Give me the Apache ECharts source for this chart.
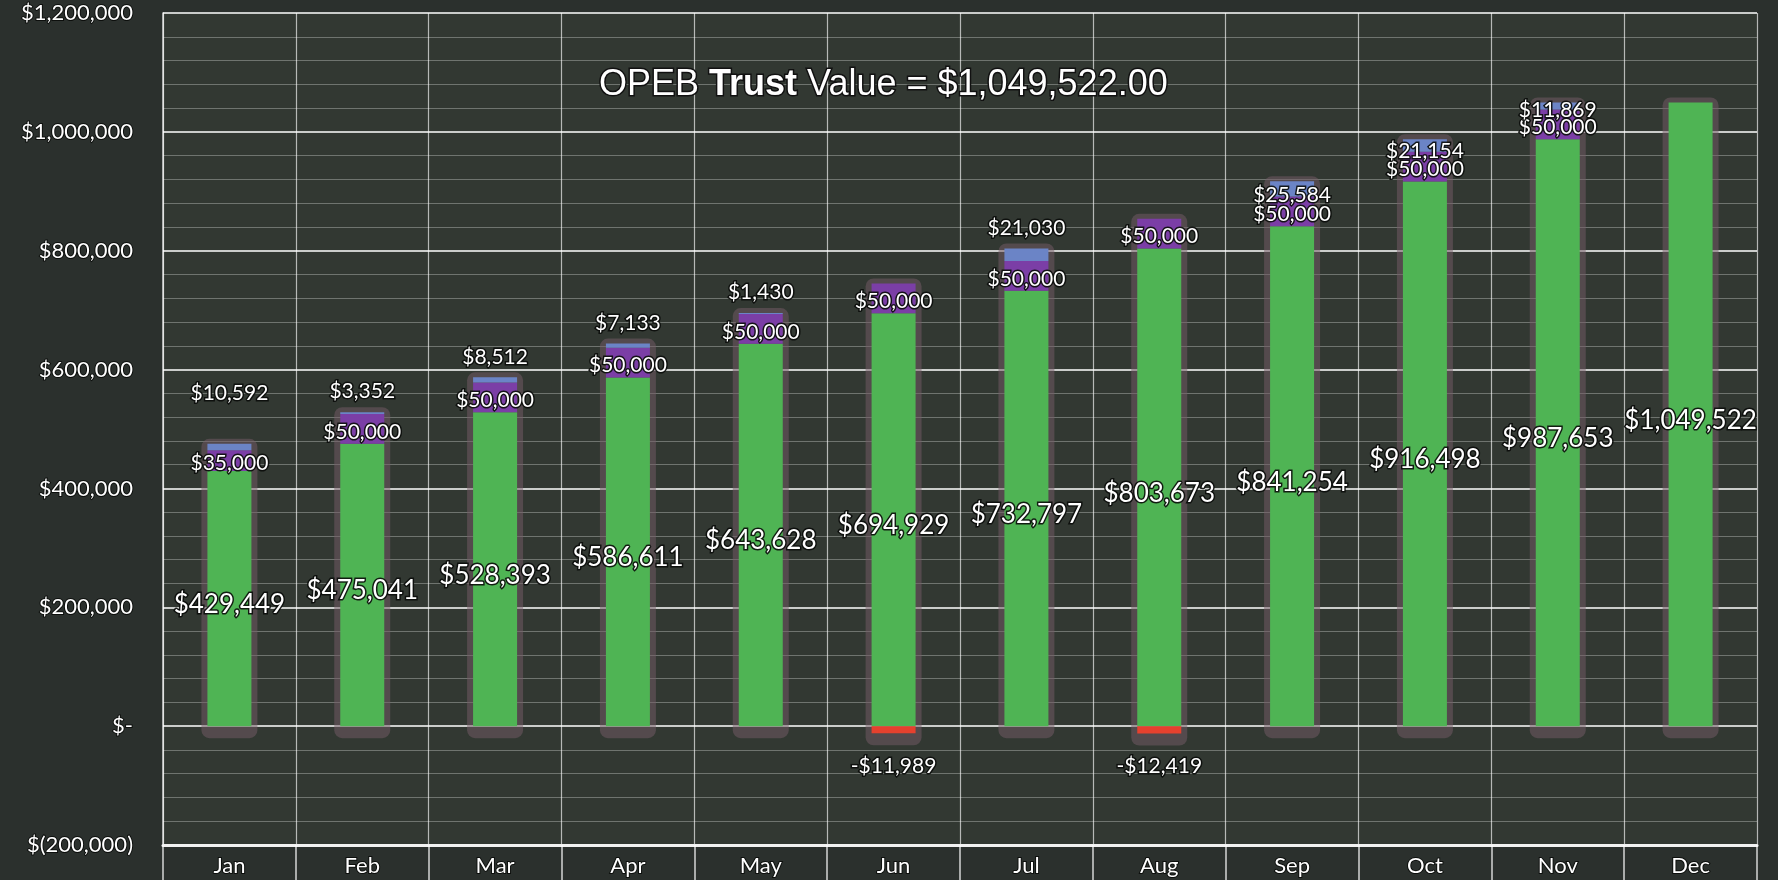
<!DOCTYPE html>
<html>
<head>
<meta charset="utf-8">
<script src="https://cdn.jsdelivr.net/npm/echarts@6/dist/echarts.min.js"></script>
<style>
  html, body { margin: 0; padding: 0; background: #2b302d; }
  #chart { width: 1778px; height: 880px; }
</style>
</head>
<body>
<div id="chart"></div>
<script>
// month data
const months = ['Jan', 'Feb', 'Mar', 'Apr', 'May', 'Jun', 'Jul', 'Aug', 'Sep', 'Oct', 'Nov', 'Dec'];
const startValue = [429449, 475041, 528393, 586611, 643628, 694929, 732797, 803673, 841254, 916498, 987653, 1049522];
const contribution = [35000, 50000, 50000, 50000, 50000, 50000, 50000, 50000, 50000, 50000, 50000, null];
const gain = [10592, 3352, 8512, 7133, 1430, null, 21030, null, 25584, 21154, 11869, null];
const loss = [null, null, null, null, null, -11989, null, -12419, null, null, null, null];
const yTicks = { min: -200000, max: 1200000, interval: 200000 };

// label nudges for the small gain labels (pixels, style only)
const gainLabelShift = [-30, 0, 0, 0, 0, 0, 0, 0, 34, 33, 28, 0];

const fontFam = 'Lato, "Open Sans", sans-serif';
const txt = { color: '#fff', fontFamily: fontFam, textBorderColor: 'rgba(10,12,10,0.9)', textBorderWidth: 3 };

function money(v) {
    if (v < 0) return '-$' + Math.abs(v).toLocaleString('en-US');
    return '$' + v.toLocaleString('en-US');
}

// outline behind each stack
const wrapData = months.map((m, i) => {
    const top = (startValue[i] || 0) + (contribution[i] || 0) + (gain[i] || 0);
    const bottom = Math.min(0, loss[i] || 0);
    return [i, top, bottom];
});

const chart = echarts.init(document.getElementById('chart'));
const BAR_W = 44;
const titleFont = '"Liberation Sans", Arial, sans-serif';

chart.setOption({
    backgroundColor: '#2b302d',
    animation: false,
    title: {
        left: 594,
        top: 62,
        text: '{n|OPEB }{b|Trust}{n| Value = $1,049,522.00}',
        textStyle: {
            fontWeight: 'normal',
            rich: {
                n: { fontFamily: titleFont, fontSize: 36, fontWeight: 'normal', color: '#fff', textBorderColor: '#111', textBorderWidth: 3 },
                b: { fontFamily: titleFont, fontSize: 36, fontWeight: 'bold', color: '#fff', textBorderColor: '#111', textBorderWidth: 3 }
            }
        }
    },
    grid: {
        left: 163, right: 21, top: 13, bottom: 35,
        show: true, backgroundColor: '#323832', borderWidth: 0
    },
    xAxis: {
        type: 'category',
        data: months,
        boundaryGap: true,
        axisLine: { onZero: false, lineStyle: { color: '#f2f2f2', width: 3 } },
        axisTick: { show: true, interval: 0, length: 36, lineStyle: { color: 'rgba(255,255,255,0.8)', width: 1.5 } },
        axisLabel: { ...txt, fontSize: 22, margin: 10, interval: 0, textBorderWidth: 2 },
        splitLine: { show: true, interval: 0, lineStyle: { color: 'rgba(255,255,255,0.65)', width: 1.2 } }
    },
    yAxis: {
        type: 'value',
        min: yTicks.min, max: yTicks.max, interval: yTicks.interval,
        axisLine: { show: true, lineStyle: { color: 'rgba(255,255,255,0.8)', width: 1.5 } },
        axisTick: { show: false },
        axisLabel: {
            ...txt, fontSize: 22, margin: 30, textBorderWidth: 2,
            formatter: v => v === 0 ? '$-' : (v < 0 ? '$(' + Math.abs(v).toLocaleString('en-US') + ')' : '$' + v.toLocaleString('en-US'))
        },
        splitLine: { lineStyle: { color: 'rgba(255,255,255,0.75)', width: 2 } },
        minorTick: { show: false, splitNumber: 5 },
        minorSplitLine: { show: true, lineStyle: { color: 'rgba(255,255,255,0.3)', width: 1 } }
    },
    series: [
        {
            type: 'custom',
            z: 1,
            silent: true,
            data: wrapData,
            renderItem: (params, api) => {
                const pTop = api.coord([api.value(0), api.value(1)]);
                const pBot = api.coord([api.value(0), api.value(2)]);
                const w = BAR_W + 12;
                return {
                    type: 'rect',
                    shape: { x: pTop[0] - w / 2, y: pTop[1] - 5, width: w, height: pBot[1] - pTop[1] + 17, r: 8 },
                    style: { fill: 'rgba(118,92,104,0.5)' }
                };
            }
        },
        {
            name: 'Start',
            type: 'bar', stack: 'a', barWidth: BAR_W, z: 2,
            data: startValue,
            itemStyle: { color: '#4fb454' },
            label: { show: true, position: 'inside', offset: [0, 6], ...txt, fontSize: 26, formatter: p => money(p.value) }
        },
        {
            name: 'Contribution',
            type: 'bar', stack: 'a', barWidth: BAR_W, z: 2,
            data: contribution,
            itemStyle: { color: '#7b3ea6' },
            label: { show: true, position: 'inside', offset: [0, 3], ...txt, fontSize: 21, formatter: p => money(p.value) }
        },
        {
            name: 'Gain',
            type: 'bar', stack: 'a', barWidth: BAR_W, z: 2,
            data: gain.map((v, i) => v == null ? v : {
                value: v,
                label: { offset: [0, gainLabelShift[i]] }
            }),
            itemStyle: { color: '#6b84c6' },
            label: { show: true, position: 'top', distance: 10, ...txt, fontSize: 21, formatter: p => money(p.value) }
        },
        {
            name: 'Loss',
            type: 'bar', stack: 'a', barWidth: BAR_W, z: 2,
            data: loss,
            itemStyle: { color: '#e6412e' },
            label: { show: true, position: 'bottom', distance: 22, ...txt, fontSize: 21, formatter: p => money(p.value) }
        }
    ]
});
window.addEventListener('resize', () => chart.resize());
</script>
</body>
</html>
